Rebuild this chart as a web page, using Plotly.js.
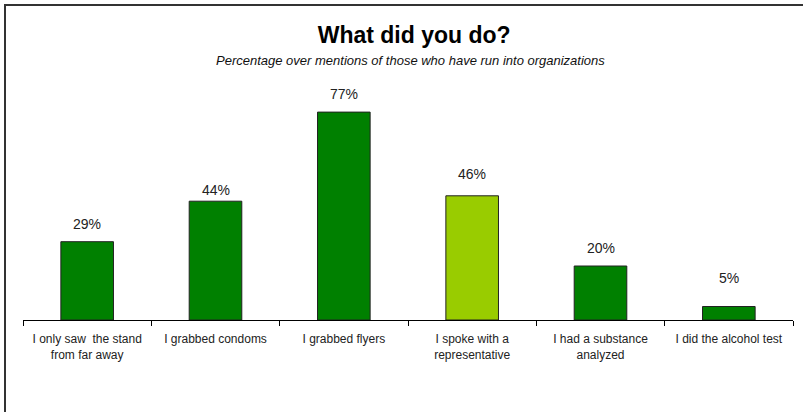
<!DOCTYPE html>
<html>
<head>
<meta charset="utf-8">
<script src="https://cdn.plot.ly/plotly-3.0.1.min.js"></script>
<style>
html,body{margin:0;padding:0;background:#fff;overflow:hidden;}
#wrap{position:relative;width:803px;height:412px;}
#frame{position:absolute;left:4px;top:4px;width:900px;height:500px;border-left:2px solid #333;border-top:2px solid #333;pointer-events:none;}
#chart{position:absolute;left:0;top:0;width:803px;height:412px;}
</style>
</head>
<body>
<div id="wrap"><div id="chart"></div><div id="frame"></div></div>
<script>
const categories = ["I only saw  the stand<br>from far away", "I grabbed condoms", "I grabbed flyers", "I spoke with a<br>representative", "I had a substance<br>analyzed", "I did the alcohol test"];
const values = [29, 44, 77, 46, 20, 5];
const colors = ["#008000", "#008000", "#008000", "#99CC00", "#008000", "#008000"];
const labelShift = [8, 1, 8, 12, 8, 19];
const titleText = "What did you do?";
const subtitleText = "Percentage over mentions of those who have run into organizations";

const trace = {
  type: "bar",
  x: categories,
  y: values,
  marker: {color: colors, line: {color: "#222", width: 1}},
  width: 0.41,
  hoverinfo: "none"
};

const annotations = categories.map((c, i) => ({
  x: c, y: values[i], xref: "x", yref: "y",
  text: values[i] + "%", showarrow: false,
  yanchor: "bottom", yshift: labelShift[i],
  font: {family: "Liberation Sans, Arial, sans-serif", size: 14, color: "#222"}
}));
annotations.push({
  x: 0.503, y: (320 - 60) / 270, xref: "paper", yref: "paper",
  text: "<i>" + subtitleText + "</i>", showarrow: false,
  xanchor: "center", yanchor: "middle",
  font: {family: "Liberation Sans, Arial, sans-serif", size: 13, color: "#111"}
});

const layout = {
  width: 803, height: 412,
  margin: {l: 23, r: 10, t: 50, b: 92},
  paper_bgcolor: "#fff", plot_bgcolor: "#fff",
  showlegend: false,
  title: {
    text: "<b>" + titleText + "</b>",
    x: 0.508, xanchor: "center", xref: "paper",
    y: 1 - 35 / 412, yanchor: "middle", yref: "container",
    font: {family: "Liberation Sans, Arial, sans-serif", size: 23, color: "#000"}
  },
  xaxis: {
    type: "category",
    showline: true, linecolor: "#000", linewidth: 1,
    ticks: "outside", tickson: "boundaries", ticklen: 5, tickcolor: "#000",
    ticklabelstandoff: 8,
    showgrid: false, zeroline: false,
    tickfont: {family: "Liberation Sans, Arial, sans-serif", size: 12, color: "#222"},
    fixedrange: true
  },
  yaxis: {
    range: [0, 100], visible: false, showgrid: false, zeroline: false, fixedrange: true
  },
  annotations: annotations
};

Plotly.newPlot("chart", [trace], layout, {displayModeBar: false, staticPlot: true});
</script>
</body>
</html>
